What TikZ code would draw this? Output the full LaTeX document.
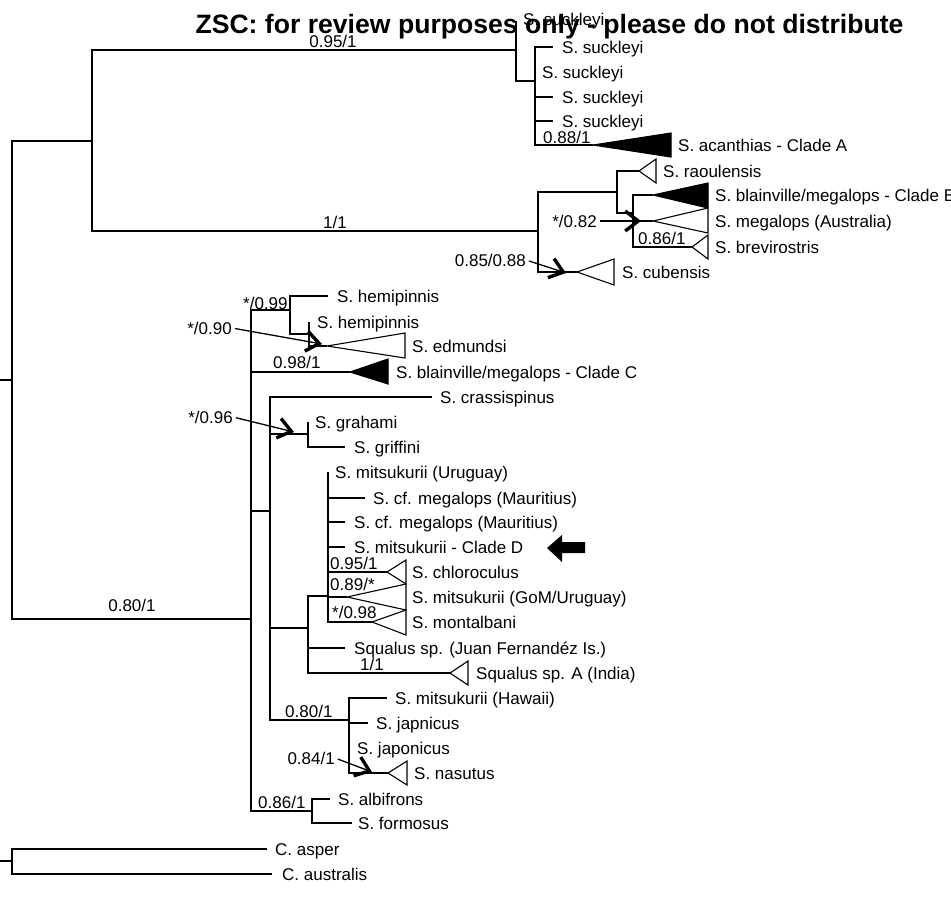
\documentclass[tikz,border=0pt]{standalone}
\usepackage{fontspec}
\setmainfont{Liberation Sans}
\usetikzlibrary{arrows.meta}
\begin{document}
\begin{tikzpicture}[x=1pt,y=-1pt,
  br/.style={line width=1.2pt},
  tri/.style={line width=1.1pt, line join=miter},
  ftri/.style={line width=1.1pt, fill=black},
  lab/.style={inner sep=0pt, text height=12.2pt, text depth=0pt, font=\fontsize{17}{20}\selectfont},
  leaf/.style={lab, anchor=west},
  ann/.style={line width=1.3pt, shorten <=3pt, -{Straight Barb[length=13pt,width=20pt,line width=3.4pt]}}]
\useasboundingbox (0,0) rectangle (951,900);
% ---- coordinates of tree nodes and tips
\coordinate (r1) at (12,380); \coordinate (r1s) at (0,380);
\coordinate (n92) at (92,141);
\coordinate (n516) at (516,50);
\coordinate (t0) at (516,21);
\coordinate (n535) at (535,81);
\coordinate (t1) at (553,47);
\coordinate (t2) at (535,72);
\coordinate (t3) at (553,97);
\coordinate (t4) at (553,121);
\coordinate (a5) at (593,145);
\coordinate (n538) at (538,231);
\coordinate (n617) at (617,192);
\coordinate (a6) at (639,171);
\coordinate (n633) at (633,213);
\coordinate (a7) at (653,195);
\coordinate (a8) at (653,221);
\coordinate (a9) at (692,247);
\coordinate (a10) at (577,272);
\coordinate (n251) at (251,619);
\coordinate (n290) at (290,310);
\coordinate (t11) at (328,296);
\coordinate (n309) at (309,334);
\coordinate (t12) at (309,322);
\coordinate (a13) at (327,346);
\coordinate (a14) at (350,372);
\coordinate (n270) at (270,511);
\coordinate (t15) at (432,397);
\coordinate (n308g) at (308,434);
\coordinate (t16) at (308,422);
\coordinate (t17) at (345,447);
\coordinate (n308m) at (308,628);
\coordinate (n328) at (328,596);
\coordinate (t18) at (328,472);
\coordinate (t19) at (365,498);
\coordinate (t20) at (345,522);
\coordinate (t21) at (345,547);
\coordinate (a22) at (387,572);
\coordinate (a23) at (347,597);
\coordinate (a24) at (372,622);
\coordinate (t25) at (345,648);
\coordinate (a26) at (450,673);
\coordinate (n349) at (349,720);
\coordinate (t27) at (387,698);
\coordinate (t28) at (368,723);
\coordinate (t29) at (349,748);
\coordinate (a30) at (388,773);
\coordinate (n312) at (312,811);
\coordinate (t31) at (330,799);
\coordinate (t32) at (352,823);
\coordinate (r2) at (12,861); \coordinate (r2s) at (0,861);
\coordinate (t33) at (267,849);
\coordinate (t34) at (272,874);
% ---- branches
\draw[br] (r1s) -- (r1);
\foreach \c in {n92,n251} \draw[br] (r1) |- (\c);
\foreach \c in {n516,n538} \draw[br] (n92) |- (\c);
\foreach \c in {t0,n535} \draw[br] (n516) |- (\c);
\foreach \c in {t1,t2,t3,t4,a5} \draw[br] (n535) |- (\c);
\foreach \c in {n617,a10} \draw[br] (n538) |- (\c);
\foreach \c in {a6,n633} \draw[br] (n617) |- (\c);
\foreach \c in {a7,a8,a9} \draw[br] (n633) |- (\c);
\foreach \c in {n290,a14,n270,n312} \draw[br] (n251) |- (\c);
\foreach \c in {t11,n309} \draw[br] (n290) |- (\c);
\foreach \c in {t12,a13} \draw[br] (n309) |- (\c);
\foreach \c in {t15,n308g,n308m,n349} \draw[br] (n270) |- (\c);
\foreach \c in {t16,t17} \draw[br] (n308g) |- (\c);
\foreach \c in {n328,t25,a26} \draw[br] (n308m) |- (\c);
\foreach \c in {t18,t19,t20,t21,a22,a23,a24} \draw[br] (n328) |- (\c);
\foreach \c in {t27,t28,t29,a30} \draw[br] (n349) |- (\c);
\foreach \c in {t31,t32} \draw[br] (n312) |- (\c);
\draw[br] (r2s) -- (r2);
\foreach \c in {t33,t34} \draw[br] (r2) |- (\c);
% ---- collapsed clades
\filldraw[ftri] (a5) -- ++(78,-12) -- ++(0,24) -- cycle;
\draw[tri] (a6) -- ++(17,-12) -- ++(0,24) -- cycle;
\filldraw[ftri] (a7) -- ++(55,-12) -- ++(0,25) -- cycle;
\draw[tri] (a8) -- ++(55,-13) -- ++(0,25) -- cycle;
\draw[tri] (a9) -- ++(16,-12) -- ++(0,24) -- cycle;
\draw[tri] (a10) -- ++(37,-13) -- ++(0,26) -- cycle;
\draw[tri] (a13) -- ++(78,-13) -- ++(0,25) -- cycle;
\filldraw[ftri] (a14) -- ++(38,-13) -- ++(0,25) -- cycle;
\draw[tri] (a22) -- ++(19,-12) -- ++(0,24) -- cycle;
\draw[tri] (a23) -- ++(59,-13) -- ++(0,26) -- cycle;
\draw[tri] (a24) -- ++(34,-12) -- ++(0,25) -- cycle;
\draw[tri] (a26) -- ++(18,-12) -- ++(0,24) -- cycle;
\draw[tri] (a30) -- ++(19,-12) -- ++(0,24) -- cycle;
% ---- leaf labels
\node[leaf] (L0) at (523,19) {S. suckleyi};
\node[leaf] (L1) at (562,47) {S. suckleyi};
\node[leaf] (L2) at (542,72) {S. suckleyi};
\node[leaf] (L3) at (562,97) {S. suckleyi};
\node[leaf] (L4) at (562,121) {S. suckleyi};
\node[leaf] (L5) at (678,145) {S. acanthias - Clade A};
\node[leaf] (L6) at (663,171) {S. raoulensis};
\node[leaf] (L7) at (715,195) {S. blainville/megalops - Clade B};
\node[leaf] (L8) at (715,221) {S. megalops (Australia)};
\node[leaf] (L9) at (715,247) {S. brevirostris};
\node[leaf] (L10) at (622,272) {S. cubensis};
\node[leaf] (L11) at (337,296) {S. hemipinnis};
\node[leaf] (L12) at (317,322) {S. hemipinnis};
\node[leaf] (L13) at (412,346) {S. edmundsi};
\node[leaf] (L14) at (396,372) {S. blainville/megalops - Clade C};
\node[leaf] (L15) at (440,397) {S. crassispinus};
\node[leaf] (L16) at (315,422) {S. grahami};
\node[leaf] (L17) at (354,447) {S. griffini};
\node[leaf] (L18) at (335,472) {S. mitsukurii (Uruguay)};
\node[leaf] (L19) at (373,498) {S. cf. megalops (Mauritius)};
\node[leaf] (L20) at (354,522) {S. cf. megalops (Mauritius)};
\node[leaf] (L21) at (354,547) {S. mitsukurii - Clade D};
\node[leaf] (L22) at (412,572) {S. chloroculus};
\node[leaf] (L23) at (412,597) {S. mitsukurii (GoM/Uruguay)};
\node[leaf] (L24) at (412,622) {S. montalbani};
\node[leaf] (L25) at (354,648) {Squalus sp. (Juan Fernandéz Is.)};
\node[leaf] (L26) at (476,673) {Squalus sp. A (India)};
\node[leaf] (L27) at (395,698) {S. mitsukurii (Hawaii)};
\node[leaf] (L28) at (376,723) {S. japnicus};
\node[leaf] (L29) at (357,748) {S. japonicus};
\node[leaf] (L30) at (414,773) {S. nasutus};
\node[leaf] (L31) at (338,799) {S. albifrons};
\node[leaf] (L32) at (358,823) {S. formosus};
\node[leaf] (L33) at (275,849) {C. asper};
\node[leaf] (L34) at (282,874) {C. australis};
% ---- support values
\node[lab] (s1) at (333,41) {0.95/1};
\node[lab] (s2) at (335,222) {1/1};
\node[lab,anchor=west] (s3) at (543,137) {0.88/1};
\node[lab,anchor=west] (s4) at (638,238) {0.86/1};
\node[lab,anchor=east] (s5) at (597,221) {*/0.82};
\node[lab,anchor=east] (s6) at (526,260) {0.85/0.88};
\node[lab,anchor=west] (s7) at (243,303) {*/0.99};
\node[lab,anchor=east] (s8) at (232,328) {*/0.90};
\node[lab,anchor=west] (s9) at (273,362) {0.98/1};
\node[lab,anchor=east] (s10) at (233,417) {*/0.96};
\node[lab,anchor=west] (s11) at (330,563) {0.95/1};
\node[lab,anchor=west] (s12) at (330,584) {0.89/*};
\node[lab,anchor=west] (s13) at (332,612) {*/0.98};
\node[lab,anchor=west] (s14) at (360,664) {1/1};
\node[lab,anchor=west] (s15) at (285,711) {0.80/1};
\node[lab,anchor=east] (s16) at (335,758) {0.84/1};
\node[lab,anchor=west] (s17) at (258,802) {0.86/1};
\node[lab] (s18) at (132,605) {0.80/1};
% ---- annotation arrows
\coordinate (p5) at (641,221);
\coordinate (p6) at (566,273);
\coordinate (p8) at (322,344);
\coordinate (p10) at (294,432);
\coordinate (p16) at (372,772);
\draw[ann] (s5.east) -- (p5);
\draw[ann] (s6.east) -- (p6);
\draw[ann] (s8.east) -- (p8);
\draw[ann] (s10.east) -- (p10);
\draw[ann] (s16.east) -- (p16);
% ---- big pointer arrow
\fill (547,548) -- (562,535) -- (562,542) -- (585,542) -- (585,553) -- (562,553) -- (562,562) -- cycle;
% ---- title
\node[anchor=base, inner sep=0pt, font=\bfseries\fontsize{26.6}{30}\selectfont] (title) at (549.5,33) {ZSC: for review purposes only - please do not distribute};
\end{tikzpicture}
\end{document}
